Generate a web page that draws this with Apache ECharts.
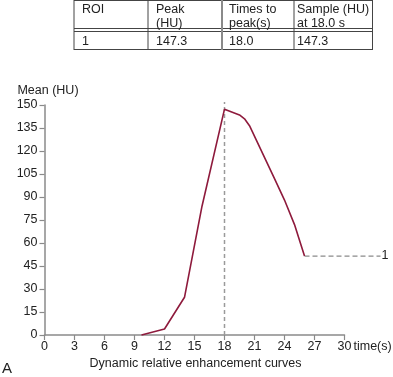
<!DOCTYPE html>
<html>
<head>
<meta charset="utf-8">
<script src="https://cdn.jsdelivr.net/npm/echarts@6/dist/echarts.min.js"></script>
<style>
html,body{margin:0;padding:0;background:#fff;}
#c{width:393px;height:377px;}
</style>
</head>
<body>
<div id="c"></div>
<script>
// ---- data ----
const tableHeaders = [['ROI'], ['Peak', '(HU)'], ['Times to', 'peak(s)'], ['Sample (HU)', 'at 18.0 s']];
const tableRow = ['1', '147.3', '18.0', '147.3'];
const curveTime = [9.7, 12, 14, 15.75, 18, 19.5, 20, 20.5, 23, 24, 25, 26];
const curveMean = [0, 3.9, 24.6, 84, 147.3, 143.5, 141, 136.5, 102, 88, 72, 51.5];
const plateauTime = [26, 33.6];
const plateauMean = [51.5, 51.5];
const peakTime = 18;
const peakLineTop = 152;
const roiLabel = '1';
const xTicks = [0, 3, 6, 9, 12, 15, 18, 21, 24, 27, 30];
const yTicks = [0, 15, 30, 45, 60, 75, 90, 105, 120, 135, 150];
const yName = 'Mean (HU)';
const xName = 'time(s)';
const caption = 'Dynamic relative enhancement curves';
const panelLetter = 'A';

// ---- chart ----
const FONT = '"Liberation Sans", Arial, Helvetica, sans-serif';
const chart = echarts.init(document.getElementById('c'), null, {renderer: 'canvas'});

const colX = [74, 148, 222, 294, 372.5];
const textX = [82, 156, 229, 297];
const tbl = [];
const lineColor = '#444';
[[0.5, 1], [28.5, 1], [31.5, 1], [49.5, 1]].forEach(([y, w]) => {
  tbl.push({type: 'line', shape: {x1: colX[0], y1: y, x2: colX[4], y2: y}, style: {stroke: lineColor, lineWidth: w}});
});
colX.forEach((x, i) => {
  tbl.push({type: 'line', shape: {x1: x, y1: 0, x2: x, y2: 50}, style: {stroke: i === 2 ? '#8a8a8a' : lineColor, lineWidth: i === 2 ? 2 : 1}});
});
tableHeaders.forEach((lines, i) => {
  lines.forEach((t, j) => {
    tbl.push({type: 'text', x: textX[i], y: 9.5 + j * 14.5, style: {text: t, fill: '#222', font: '12.5px ' + FONT, verticalAlign: 'middle'}});
  });
});
tableRow.forEach((t, i) => {
  tbl.push({type: 'text', x: textX[i], y: 42, style: {text: t, fill: '#222', font: '12.5px ' + FONT, verticalAlign: 'middle'}});
});
tbl.push({type: 'text', x: 195.5, y: 364, style: {text: caption, fill: '#222', font: '12.5px ' + FONT, align: 'center', verticalAlign: 'middle'}});
tbl.push({type: 'text', x: 2, y: 369, style: {text: panelLetter, fill: '#222', font: '15px ' + FONT, verticalAlign: 'middle'}});

const axisColor = '#8a8a8a';
const L = 44.5, T = 105, B = 42, PXX = 10, PXY = 230 / 150;
const xMax = xTicks[xTicks.length - 1], yMax = yTicks[yTicks.length - 1];
const xMax2 = 34, yMax2 = 153;
const option = {
  animation: false,
  textStyle: {fontFamily: FONT},
  grid: [
    {left: L, right: 393 - L - xMax * PXX, top: T, bottom: B, outerBoundsMode: 'none', containLabel: false},
    {left: L, right: 393 - L - xMax2 * PXX, top: T - (yMax2 - yMax) * PXY, bottom: B, outerBoundsMode: 'none', containLabel: false}
  ],
  xAxis: [{
    type: 'value', gridIndex: 0, min: xTicks[0], max: xMax, interval: xTicks[1] - xTicks[0],
    name: xName, nameLocation: 'end', nameGap: 9, nameMoveOverlap: false,
    nameTextStyle: {color: '#222', fontSize: 12.5, fontFamily: FONT, verticalAlign: 'top', padding: [5, 0, 0, 0], overflow: 'none'},
    axisLine: {show: true, lineStyle: {color: axisColor, width: 1.5}},
    axisTick: {show: true, length: 5, lineStyle: {color: axisColor, width: 1.2}},
    axisLabel: {color: '#222', fontSize: 12.5, fontFamily: FONT, margin: 5},
    splitLine: {show: false}
  }, {
    type: 'value', gridIndex: 1, min: 0, max: xMax2, show: false
  }],
  yAxis: [{
    type: 'value', gridIndex: 0, min: yTicks[0], max: yMax, interval: yTicks[1] - yTicks[0],
    name: yName, nameLocation: 'end', nameGap: 8, nameMoveOverlap: false,
    nameTextStyle: {color: '#222', fontSize: 12.5, fontFamily: FONT, padding: [0, 0, 0, 7]},
    axisLine: {show: true, lineStyle: {color: axisColor, width: 1.5}},
    axisTick: {show: true, length: 5, lineStyle: {color: axisColor, width: 1.2}},
    axisLabel: {color: '#222', fontSize: 12.5, fontFamily: FONT, margin: 7},
    splitLine: {show: false}
  }, {
    type: 'value', gridIndex: 1, min: 0, max: yMax2, show: false
  }],
  series: [
    {
      type: 'line', xAxisIndex: 1, yAxisIndex: 1, clip: false, symbol: 'none', z: 3,
      data: [[peakTime, 0], [peakTime, peakLineTop]],
      lineStyle: {color: '#9a9a9a', width: 1.5, type: [4, 3]}
    },
    {
      type: 'line', xAxisIndex: 1, yAxisIndex: 1, clip: false, symbol: 'none', z: 2,
      data: plateauTime.map((t, i) => [t, plateauMean[i]]),
      lineStyle: {color: '#8a8a8a', width: 1.3, type: [5, 3]},
      endLabel: {show: true, formatter: roiLabel, color: '#222', fontSize: 12.5, fontFamily: FONT, distance: 1}
    },
    {
      type: 'line', xAxisIndex: 0, yAxisIndex: 0, clip: false, symbol: 'none', z: 4,
      data: curveTime.map((t, i) => [t, curveMean[i]]),
      lineStyle: {color: '#8e1a3c', width: 1.6}
    }
  ],
  graphic: tbl
};
chart.setOption(option);
</script>
</body>
</html>
